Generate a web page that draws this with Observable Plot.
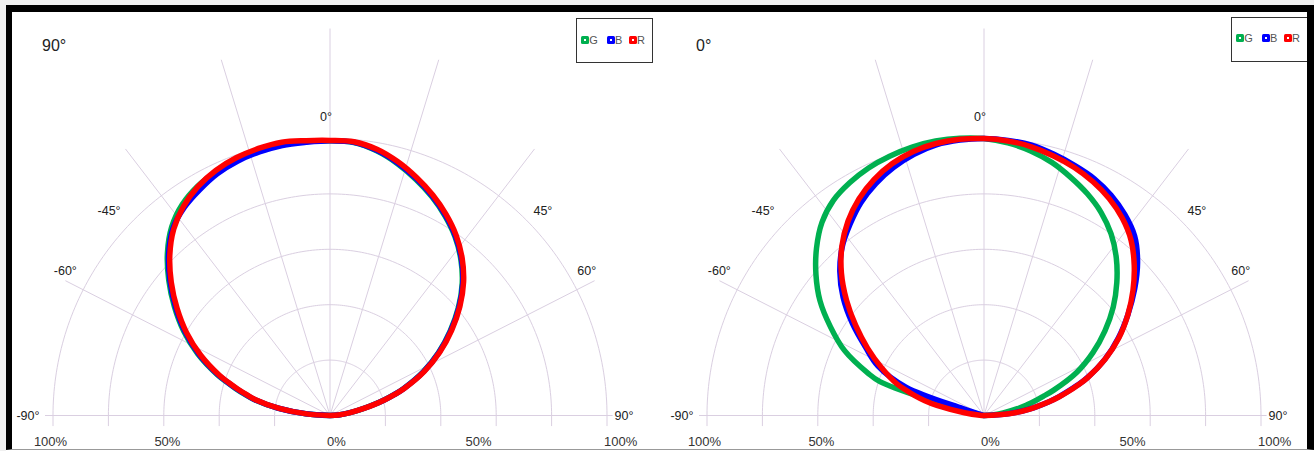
<!DOCTYPE html>
<html><head><meta charset="utf-8">
<script src="https://cdn.jsdelivr.net/npm/d3@7"></script>
<script src="https://cdn.jsdelivr.net/npm/@observablehq/plot@0.6"></script>
<style>
html,body{margin:0;padding:0;background:#f0f0f0;}
#wrap{position:relative;width:1314px;height:451px;overflow:hidden;background:#f0f0f0;font-family:"Liberation Sans",Arial,sans-serif;}
#inner{position:absolute;left:6px;top:5px;right:0;bottom:0;background:#fff;}
#frame{position:absolute;left:6px;top:5px;width:1308px;height:445px;box-sizing:border-box;border-top:7px solid #000;border-left:6px solid #000;border-right:7px solid #000;border-bottom:1px solid #999;pointer-events:none;z-index:5;}
.panel{position:absolute;top:0;}
.panel svg{display:block;}
.corner{position:absolute;font-size:16px;color:#222;line-height:16px;}
.lbox{position:absolute;border:1.5px solid #333;background:#fff;box-sizing:border-box;}
.sw{position:absolute;width:8px;height:8px;border-radius:1.5px;}
.sw::after{content:"";position:absolute;left:3px;top:3px;width:2px;height:2px;background:#fff;}
.lt{position:absolute;font-size:11px;color:#555;line-height:11px;}
</style></head><body>
<div id="wrap"><div id="inner"></div><div id="frame"></div></div>
<script>
// ---- data ----
const angles = [-90,-86,-82,-78,-76,-74,-72,-70,-65,-60,-55,-50,-45,-40,-35,-30,-25,-20,-15,-10,-5,0,5,10,15,20,25,30,35,40,45,50,55,60,65,70,72,74,76,78,82,86,90];

// panel "90°"
const p90_G = [0,8.8,19,28.2,31.8,35.5,39.3,43.4,52.7,61,68.6,76,83,88.9,93,95.6,97.2,98.6,99.4,99.8,99.3,99.2,98.9,97,94.1,90.7,87.1,83.1,78.7,73.5,67.5,60.5,52.9,45.2,37,28.1,24.3,20.3,16.3,12.5,6.9,3,0];
const p90_B = [0,8.7,18.8,27.9,31.4,35.1,38.9,43,52.1,60.4,68,75.4,82.4,88.2,91.7,94.1,96.3,97.7,98.5,99,99,99.2,99,97.2,94.4,91,87.4,83.4,79,73.8,67.8,60.8,53.2,45.4,37.2,28.3,24.4,20.4,16.4,12.6,6.9,3,0];
const p90_R = [0,8.5,18.5,27.5,31,34.7,38.5,42.5,51.5,59.8,67.4,74.8,81.8,87.8,92.2,95.4,97.6,99,99.8,100.2,99.6,99.3,99.2,97.6,94.8,91.4,87.8,83.8,79.4,74.2,68.2,61.2,53.6,45.8,37.5,28.5,24.6,20.6,16.6,12.8,7,3,0];

// panel "0°"
const p0_G = [0,0,0,0.5,5,22,39.5,44.5,55.6,64,72.3,79.2,85.5,91,94.8,97,98.6,99.6,100.3,100.6,100.5,100,98.8,97,94.6,91.5,88.3,84.6,80,74.3,67.8,60.9,53.3,45.4,37,26.8,22.6,19.3,16,13,7,3,0];
const p0_B = [0,0,0,0.3,0.8,2,8,30,42.2,49.4,58,66.4,73.6,79.6,84.3,88.8,92.4,95.3,97.6,99.2,99.8,100,99.7,99.1,97.6,96,94.3,91.8,88.6,84.6,78.4,71,63.4,56,48.2,39.5,35.5,31.5,27.8,24,16.5,8.5,0];
const p0_R = [0,1.5,7.1,17.4,22,26,29.7,33.5,40.8,48.5,56.5,64.8,72.8,79.8,85.6,90.3,94,96.8,98.7,99.7,100.1,100,99.5,98.5,97,95.3,93.1,90.4,87,82.6,76.7,70.2,63.4,56.3,48.3,39.7,35.7,31.8,28,24.2,16.7,9,0];

const seriesNames = ["G","B","R"];
const seriesColors = ["#00b050","#0000ff","#ff0000"];
const panelTitles = ["90°","0°"];

const ringValues = [20,40,60,80,100];
const spokeAngles = [-63,-37.5,-17,0,17,37.5,63];
const spokeLengths = [107.2,121.3,134.3,139.7,134.3,121.3,107.2];
const angleLabelAt = [-90,-61,-46.7,0,46.7,61,90];
const angleLabelText = ["-90°","-60°","-45°","0°","45°","60°","90°"];
const pctLabelAt = [-100.9,-58.7,2.3,53.6,104.9];
const pctLabelText = ["100%","50%","0%","50%","100%"];

// ---- drawing ----
const gridColor = "#dacfe1";
const rad = d => d * Math.PI / 180;
const PX = 2.77, CX = 329.5, CY = 415, W = 654, H = 451;

function panel(series) {
  const ringPts = ringValues.flatMap(r => d3.range(-90, 90.001, 1).map(a => ({ring: r, x: r * Math.sin(rad(a)), y: r * Math.cos(rad(a))})));
  const spokes = spokeAngles.map((a, i) => ({x2: spokeLengths[i] * Math.sin(rad(a)), y2: spokeLengths[i] * Math.cos(rad(a))}));
  const ticks = ringValues.flatMap(r => [-r, r]);
  const curvePts = series.flatMap((s, k) => angles.map((a, i) => ({name: seriesNames[k], x: s[i] * Math.sin(rad(a)), y: s[i] * Math.cos(rad(a))})));
  const aLabels = angleLabelAt.map((a, i) => ({a, t: angleLabelText[i]}));
  const pLabels = pctLabelAt.map((v, i) => ({v, t: pctLabelText[i]}));
  const LR = 107.6;
  return Plot.plot({
    width: W, height: H, margin: 0,
    x: {domain: [-CX / PX, (W - CX) / PX], axis: null},
    y: {domain: [-(H - CY) / PX, CY / PX], axis: null},
    color: {domain: seriesNames, range: seriesColors},
    style: {background: "transparent", overflow: "visible", maxWidth: "none", fontFamily: "'Liberation Sans', Arial, sans-serif"},
    marks: [
      Plot.line(ringPts, {x: "x", y: "y", z: "ring", stroke: gridColor, strokeWidth: 1}),
      Plot.link(spokes, {x1: 0, y1: 0, x2: "x2", y2: "y2", stroke: gridColor, strokeWidth: 1}),
      Plot.ruleY([0], {x1: -102.7, x2: 102.2, stroke: gridColor, strokeWidth: 1}),
      Plot.ruleX(ticks, {y1: 0, y2: -4, stroke: gridColor, strokeWidth: 1}),
      Plot.text(aLabels, {x: d => LR * Math.sin(rad(d.a)), y: d => LR * Math.cos(rad(d.a)), text: "t", dx: -4, fontSize: 12.5, fill: "#222"}),
      Plot.text(pLabels, {x: "v", y: -9.4, text: "t", fontSize: 13, fill: "#333"}),
      Plot.line(curvePts, {x: "x", y: "y", z: "name", stroke: "name", strokeWidth: 5.5, curve: "catmull-rom", strokeLinejoin: "round", strokeLinecap: "round"})
    ]
  });
}

const wrap = document.getElementById("wrap");
const panels = [[p90_G, p90_B, p90_R], [p0_G, p0_B, p0_R]];
const offsets = [0, 654];
const boxLeft = [575.7, 1230.7], boxTop = [18.3, 16.7];
const swOff = [6.3, 32, 54];

panels.forEach((series, p) => {
  const div = document.createElement("div");
  div.className = "panel";
  div.style.left = offsets[p] + "px";
  div.appendChild(panel(series));
  wrap.appendChild(div);

  const c = document.createElement("div");
  c.className = "corner";
  c.style.left = (offsets[p] + 42) + "px";
  c.style.top = "38px";
  c.textContent = panelTitles[p];
  wrap.appendChild(c);

  const box = document.createElement("div");
  box.className = "lbox";
  box.style.left = boxLeft[p] + "px";
  box.style.top = boxTop[p] + "px";
  box.style.width = "77px";
  box.style.height = "45px";
  seriesNames.forEach((n, k) => {
    const sw = document.createElement("div");
    sw.className = "sw";
    sw.style.left = (swOff[k] - 1.5) + "px";
    sw.style.top = "16.5px";
    sw.style.background = seriesColors[k];
    box.appendChild(sw);
    const t = document.createElement("div");
    t.className = "lt";
    t.style.left = (swOff[k] + 6.3) + "px";
    t.style.top = "15.8px";
    t.textContent = n;
    box.appendChild(t);
  });
  wrap.appendChild(box);
});
</script>
</body></html>
